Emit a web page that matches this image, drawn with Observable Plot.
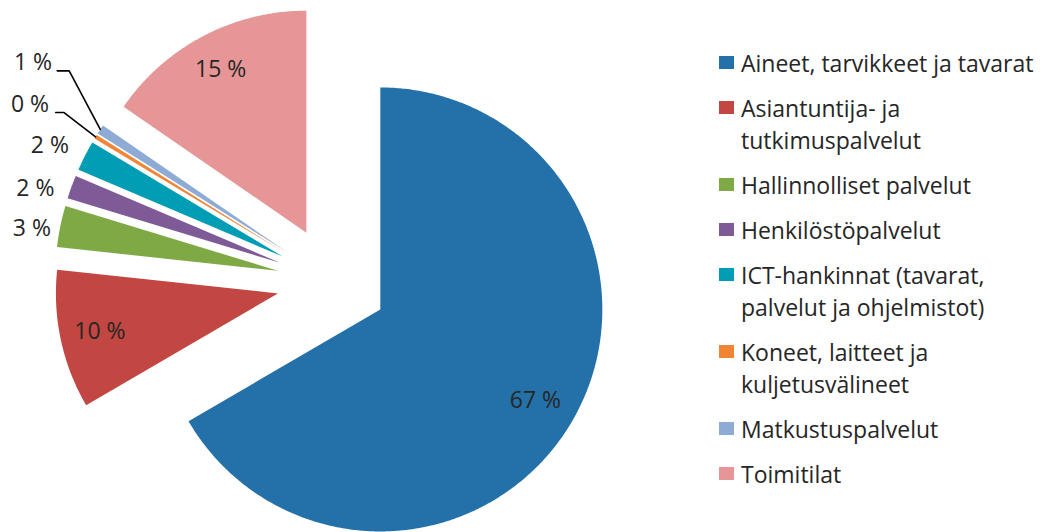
<!DOCTYPE html>
<html>
<head>
<meta charset="utf-8">
<script src="https://cdn.jsdelivr.net/npm/d3@7"></script>
<script src="https://cdn.jsdelivr.net/npm/@observablehq/plot@0.6"></script>
<style>
  html, body { margin: 0; padding: 0; background: #fff; }
  #wrap { position: relative; width: 1048px; height: 532px; overflow: hidden; font-family: "Open Sans", sans-serif; color: #262626; }
  #legend { position: absolute; left: 719px; top: 46.7px; }
  .item { display: flex; align-items: flex-start; margin-bottom: 13px; }
  .sw { width: 15px; height: 13px; margin-top: 9.5px; margin-right: 7px; flex: none; }
  .lab { width: 307px; font-size: 23px; line-height: 32px; }
</style>
</head>
<body>
<div id="wrap"><div id="chart"></div><div id="legend"></div></div>
<script>
// ---- data ----
const categories = [
  "Aineet, tarvikkeet ja tavarat",
  "Asiantuntija- ja tutkimuspalvelut",
  "Hallinnolliset palvelut",
  "Henkilöstöpalvelut",
  "ICT-hankinnat (tavarat, palvelut ja ohjelmistot)",
  "Koneet, laitteet ja kuljetusvälineet",
  "Matkustuspalvelut",
  "Toimitilat"
];
const shares = [66.6, 10.1, 3.0, 1.7, 2.2, 0.3, 0.7, 15.4];
const colors = ["#2471a9", "#c24641", "#7fa944", "#7e5a96", "#009db5", "#f08536", "#8eabd6", "#e69696"];

// ---- label placement style (not data) ----
// kind: inside / outside / leader ; f = radial factor from slice apex ; da = angle shift (deg)
const labelStyle = [
  {kind: "inside", f: 0.81, da: 0.5},
  {kind: "inside", f: 0.82, da: 0},
  {kind: "outside", f: 1.04, da: -0.9},
  {kind: "outside", f: 1.07, da: -1.7},
  {kind: "outside", f: 1.085, da: 0.4},
  {kind: "leader", f: 1.18, da: 0.9, hook: 0.036, gap: 0.03},
  {kind: "leader", f: 1.27, da: 6.5, hook: 0.054, gap: 0.023},
  {kind: "inside", f: 0.83, da: 0}
];

const explode = 0.25;   // relative to radius
const pxPerUnit = 222, cx = 331.7, cy = 281.3, W = 1048, H = 532;

const table = categories.map((c, i) => ({category: c, share: shares[i], label: Math.round(shares[i]) + " %", i}));
const arcs = d3.pie().sort(null).value(d => d.share).startAngle(0).endAngle(2 * Math.PI)(table);
const dir = a => [Math.sin(a), -Math.cos(a)];
const rad = deg => deg * Math.PI / 180;

const polys = [];
const labels = [];
const leaders = [];
arcs.forEach(a => {
  const mid = (a.startAngle + a.endAngle) / 2;
  const [dx, dy] = dir(mid);
  const ox = explode * dx, oy = explode * dy;
  const cat = a.data.category;
  polys.push({category: cat, x: ox, y: oy});
  const n = Math.max(2, Math.ceil((a.endAngle - a.startAngle) / rad(0.5)));
  for (let k = 0; k <= n; k++) {
    const t = a.startAngle + (a.endAngle - a.startAngle) * k / n;
    const [ux, uy] = dir(t);
    polys.push({category: cat, x: ox + ux, y: oy + uy});
  }
  const s = labelStyle[a.data.i];
  const [lx, ly] = dir(mid + rad(s.da));
  const px = ox + s.f * lx, py = oy + s.f * ly;
  if (s.kind === "inside") labels.push({x: px, y: py, text: a.data.label, kind: "inside"});
  else if (s.kind === "outside") labels.push({x: px, y: py, text: a.data.label, kind: "outside"});
  else {
    leaders.push({id: cat, x: ox + dx, y: oy + dy});
    leaders.push({id: cat, x: px, y: py});
    leaders.push({id: cat, x: px - s.hook, y: py});
    labels.push({x: px - s.hook - s.gap, y: py, text: a.data.label, kind: "leader"});
  }
});

const font = {fontSize: 23, fill: "#262626"};
const chart = Plot.plot({
  width: W, height: H, margin: 0,
  style: {background: "white", fontFamily: "'Open Sans', sans-serif"},
  x: {domain: [-cx / pxPerUnit, (W - cx) / pxPerUnit], range: [0, W], axis: null},
  y: {domain: [-cy / pxPerUnit, (H - cy) / pxPerUnit], range: [0, H], axis: null},
  color: {domain: categories, range: colors},
  marks: [
    Plot.line(polys, {x: "x", y: "y", z: "category", fill: "category", stroke: "none", curve: "linear-closed"}),
    Plot.line(leaders, {x: "x", y: "y", z: "id", stroke: "#000", strokeWidth: 1.6}),
    Plot.text(labels.filter(d => d.kind === "inside"), {x: "x", y: "y", text: "text", ...font, textAnchor: "middle"}),
    Plot.text(labels.filter(d => d.kind === "outside"), {x: "x", y: "y", text: "text", ...font, textAnchor: "end"}),
    Plot.text(labels.filter(d => d.kind === "leader"), {x: "x", y: "y", text: "text", ...font, textAnchor: "end", dy: -8})
  ]
});
document.getElementById("chart").appendChild(chart);

const legend = document.getElementById("legend");
categories.forEach((c, i) => {
  const item = document.createElement("div");
  item.className = "item";
  const sw = document.createElement("div");
  sw.className = "sw";
  sw.style.background = colors[i];
  const lab = document.createElement("div");
  lab.className = "lab";
  lab.textContent = c;
  item.appendChild(sw);
  item.appendChild(lab);
  legend.appendChild(item);
});
</script>
</body>
</html>
